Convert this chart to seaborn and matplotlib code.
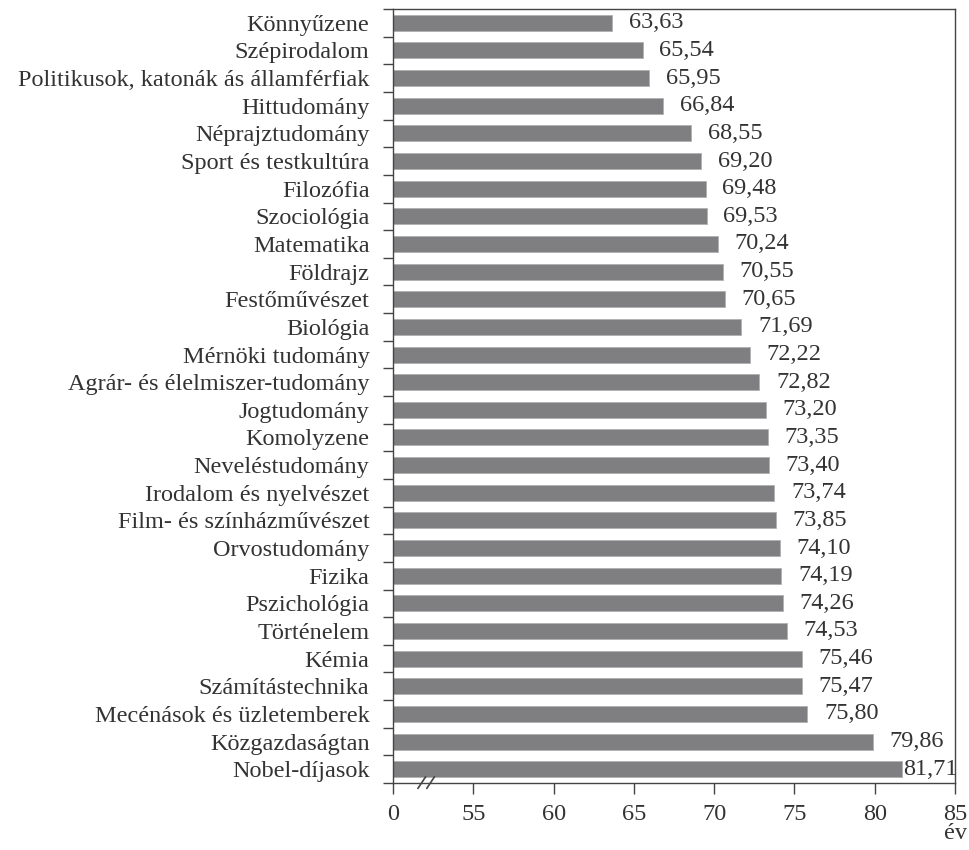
import matplotlib
matplotlib.use("Agg")
import matplotlib.pyplot as plt
import seaborn as sns
import pandas as pd
import numpy as np

categories = [
    "Könnyűzene", "Szépirodalom", "Politikusok, katonák ás államférfiak",
    "Hittudomány", "Néprajztudomány", "Sport és testkultúra", "Filozófia",
    "Szociológia", "Matematika", "Földrajz", "Festőművészet", "Biológia",
    "Mérnöki tudomány", "Agrár- és élelmiszer-tudomány", "Jogtudomány",
    "Komolyzene", "Neveléstudomány", "Irodalom és nyelvészet",
    "Film- és színházművészet", "Orvostudomány", "Fizika", "Pszichológia",
    "Történelem", "Kémia", "Számítástechnika", "Mecénások és üzletemberek",
    "Közgazdaságtan", "Nobel-díjasok",
]
values = [
    63.63, 65.54, 65.95, 66.84, 68.55, 69.20, 69.48, 69.53, 70.24, 70.55,
    70.65, 71.69, 72.22, 72.82, 73.20, 73.35, 73.40, 73.74, 73.85, 74.10,
    74.19, 74.26, 74.53, 75.46, 75.47, 75.80, 79.86, 81.71,
]
x_ticks = [50, 55, 60, 65, 70, 75, 80, 85]
x_ticklabels = ["0", "55", "60", "65", "70", "75", "80", "85"]
x_unit = "év"

sns.set_theme(style="white")
plt.rcParams["font.family"] = ["Liberation Serif", "DejaVu Serif"]
FS = 17.5
TXT = "#333333"

df = pd.DataFrame({"cat": categories, "val": values})

fig = plt.figure(figsize=(9.69, 8.5), dpi=100)
ax = fig.add_axes([0.4056, 0.0788, 0.58, 0.9106])

sns.barplot(data=df, x="val", y="cat", orient="h", color="#7f7f82",
            saturation=1, width=0.58, edgecolor="#b0b0b3", linewidth=0.6, ax=ax)

ax.set_xlim(50, 85)
ax.set_ylim(len(categories) - 0.5, -0.5)
ax.set_xticks(x_ticks)
ax.set_xticklabels(x_ticklabels, fontsize=FS, color=TXT)
ax.set_yticks(range(len(categories)))
ax.set_yticklabels(categories, fontsize=FS, color=TXT)
ax.set_yticks(np.arange(-0.5, len(categories) + 0.5, 1), minor=True)
ax.tick_params(axis="y", which="major", length=0, pad=17)
ax.tick_params(axis="y", which="minor", length=7, width=1, color="#444444", direction="out", left=True)
ax.tick_params(axis="x", which="major", length=8, width=1, color="#444444", direction="out", bottom=True, pad=7)
ax.set_xlabel("")
ax.set_ylabel("")

for s in ["left", "bottom", "top", "right"]:
    ax.spines[s].set_visible(True)
    ax.spines[s].set_color("#444444")
    ax.spines[s].set_linewidth(1.0)

labels = [f"{v:.2f}".replace(".", ",") for v in values]
bars = ax.containers[0]
ax.bar_label(bars, labels=labels[:-1] + [""], padding=12, fontsize=FS, color=TXT)
# last label squeezed against the frame, as in the source
ax.annotate(labels[-1], xy=(values[-1], len(values) - 1), xytext=(1, 0),
            textcoords="offset points", va="center", ha="left",
            fontsize=FS, color=TXT)

# axis break marks
trans = ax.get_xaxis_transform()
for x0 in (51.55, 52.1):
    ax.plot([x0, x0 + 0.48], [-0.007, 0.008], transform=trans, color="#444444",
            lw=1.2, clip_on=False)

ax.text(1.0, -0.052, x_unit, transform=ax.transAxes, ha="center", va="top",
        fontsize=FS, color=TXT)

fig.savefig("out.png", dpi=100)
